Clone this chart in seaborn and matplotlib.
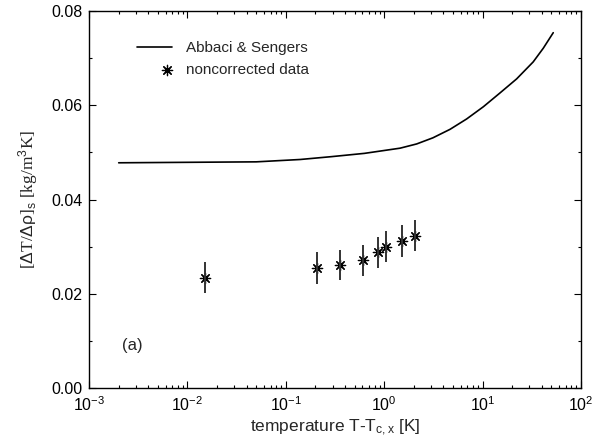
import numpy as np
import pandas as pd
import seaborn as sns
import matplotlib
matplotlib.use('Agg')
import matplotlib.pyplot as plt
from matplotlib.ticker import LogLocator, MultipleLocator, NullFormatter
from matplotlib.legend_handler import HandlerPathCollection

# Abbaci & Sengers curve
theory_t = [0.002, 0.01, 0.05, 0.14, 0.29, 0.63, 1.45, 2.14, 3.13, 4.67, 6.89,
            10.2, 15.0, 22.2, 32.7, 41.4, 52.3]
theory_v = [0.0478, 0.0479, 0.0480, 0.0485, 0.0491, 0.0498, 0.0509, 0.0518,
            0.0531, 0.0549, 0.0571, 0.0597, 0.0626, 0.0656, 0.0692, 0.0721, 0.0754]

# noncorrected data
data_t = [0.0151, 0.206, 0.356, 0.614, 0.871, 1.04, 1.51, 2.04]
data_v = [0.0234, 0.0254, 0.0261, 0.0271, 0.0288, 0.0300, 0.0313, 0.0323]
data_err = [0.0033, 0.0034, 0.0032, 0.0033, 0.0033, 0.0033, 0.0034, 0.0033]


class RightMarker(HandlerPathCollection):
    # put the legend star at the right end of the handle box
    def get_xdata(self, legend, xdescent, ydescent, width, height, fontsize):
        xdata, _ = super().get_xdata(legend, xdescent, ydescent, width, height, fontsize)
        return xdata, np.array([width - xdescent - 4])


sns.set_theme(style='ticks')
plt.rcParams['font.family'] = ['Liberation Sans', 'DejaVu Sans']
plt.rcParams['mathtext.fontset'] = 'custom'
plt.rcParams['mathtext.rm'] = 'Liberation Sans'
plt.rcParams['mathtext.it'] = 'Liberation Sans'

theory = pd.DataFrame({'t': theory_t, 'v': theory_v})
meas = pd.DataFrame({'t': data_t, 'v': data_v, 'err': data_err})

fig = plt.figure(figsize=(6.02, 4.41), dpi=100)
ax = fig.add_axes([0.148, 0.120, 0.817, 0.855])

sns.lineplot(data=theory, x='t', y='v', color='black', linewidth=1.2,
             label='Abbaci & Sengers', ax=ax)
ax.errorbar(meas['t'], meas['v'], yerr=meas['err'], fmt='none',
            ecolor='#333333', elinewidth=1.4, capsize=0)
sns.scatterplot(data=meas, x='t', y='v', marker=(8, 2, 0), s=55,
                color='black', linewidth=0.9, edgecolor='black',
                label='noncorrected data', ax=ax)

ax.set_xscale('log')
ax.set_xlim(1e-3, 1e2)
ax.set_ylim(0, 0.08)
ax.yaxis.set_major_locator(MultipleLocator(0.02))
ax.yaxis.set_minor_locator(MultipleLocator(0.01))
ax.yaxis.set_major_formatter(matplotlib.ticker.FormatStrFormatter('%.2f'))
ax.xaxis.set_major_locator(LogLocator(base=10, numticks=10))
ax.xaxis.set_minor_locator(LogLocator(base=10, subs=np.arange(2, 10), numticks=10))
ax.xaxis.set_minor_formatter(NullFormatter())

ax.tick_params(which='both', direction='in', top=True, right=True,
               labelsize=11.5, colors='black', pad=5)
ax.tick_params(which='major', length=5, width=0.8)
ax.tick_params(which='minor', length=2.5, width=0.8)
for s in ax.spines.values():
    s.set_visible(True)
    s.set_linewidth(1.0)
    s.set_color('black')

ax.set_xlabel(r'temperature T-T$_{\rm c,x}$ [K]', fontsize=12.5, labelpad=3)
ax.set_ylabel(r'[$\Delta$T/$\Delta\rho$]$_{\rm s}$ [kg/m$^{3}$K]', fontsize=12.5,
              family=['Liberation Serif', 'DejaVu Serif'], labelpad=8)

ax.text(2.15e-3, 0.0091, '(a)', fontsize=12, va='center')

handles, labels = ax.get_legend_handles_labels()
coll = [h for h in handles if isinstance(h, matplotlib.collections.PathCollection)]
ax.legend(handles, labels, loc='upper left', bbox_to_anchor=(0.07, 0.957),
          frameon=False, fontsize=11, handlelength=2.3, handletextpad=0.9,
          labelspacing=0.55,
          handler_map={h: RightMarker() for h in coll})

fig.savefig('out.png', dpi=100)
